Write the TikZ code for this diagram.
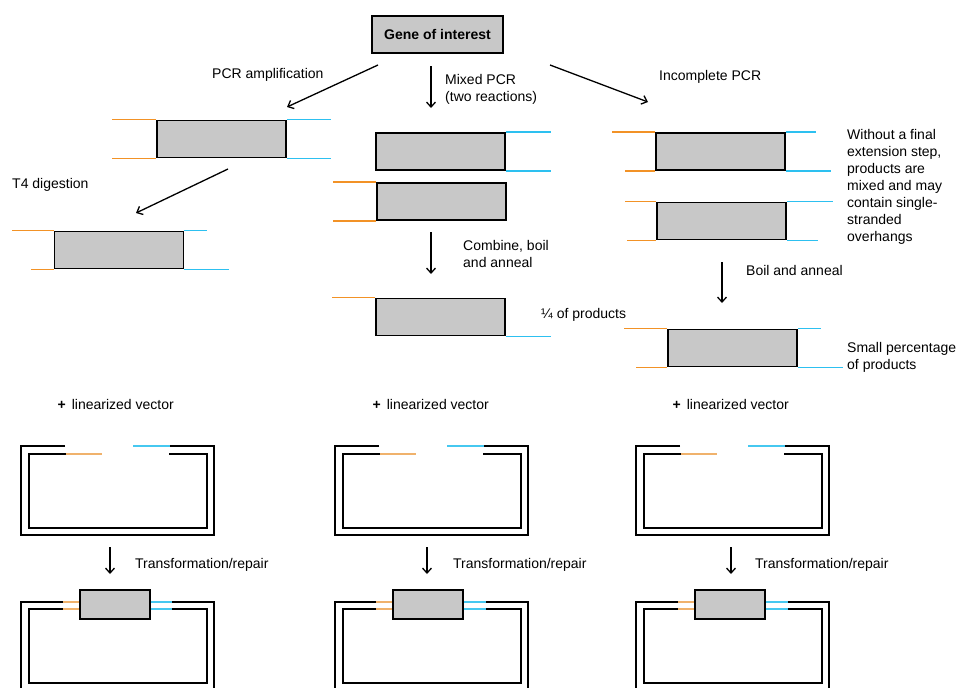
\documentclass[tikz,border=0pt]{standalone}
\usepackage{fontspec}
\setmainfont{Liberation Sans}
\usetikzlibrary{arrows.meta}
\definecolor{boxgray}{RGB}{200,200,200}
\definecolor{strandorange}{RGB}{242,146,38}
\definecolor{strandblue}{RGB}{45,192,240}
\definecolor{vecorange}{RGB}{240,178,108}
\definecolor{vecblue}{RGB}{70,200,240}

\begin{document}
\begin{tikzpicture}
[
x=1pt, y=-1pt,
font=\fontsize{14}{17}\selectfont,
dna box/.style={rectangle,draw,fill=boxgray,line width=1.8pt,minimum width=129pt,minimum height=37pt,inner sep=0pt},
dna gene/.style={dna box,minimum width=131pt,font=\fontsize{14}{17}\selectfont\bfseries},
dna smallbox/.style={dna box,minimum width=70pt,minimum height=29pt},
dna orange/.style={draw=strandorange,line width=1.5pt},
dna blue/.style={draw=strandblue,line width=1.5pt},
vector orange/.style={draw=vecorange,line width=1.5pt},
vector blue/.style={draw=vecblue,line width=1.5pt},
vector line/.style={draw,line width=2.2pt},
step arrow/.style={-{Straight Barb[length=5pt,width=9pt]},line width=1.3pt},
step text/.style={anchor=base west,inner sep=0pt},
step multitext/.style={anchor=west,inner sep=0pt,align=left}
]

\useasboundingbox (0,0) rectangle (959,688);

% gene of interest
\node[dna gene] (gene) at (437.5,34.5) {Gene of interest};

% arrow ends
\coordinate (amp from) at (378,65);
\coordinate (amp to) at (287,107);
\coordinate (mixed from) at (431,66);
\coordinate (mixed to) at (431,108);
\coordinate (incomplete from) at (550,65);
\coordinate (incomplete to) at (648,102);
\coordinate (t4 from) at (228,169);
\coordinate (t4 to) at (136,213);
\coordinate (combine from) at (431,232);
\coordinate (combine to) at (431,274);
\coordinate (boil from) at (722,262);
\coordinate (boil to) at (722,303);

\draw[step arrow] (amp from) -- (amp to);
\draw[step arrow] (mixed from) -- (mixed to);
\draw[step arrow] (incomplete from) -- (incomplete to);
\draw[step arrow] (t4 from) -- (t4 to);
\draw[step arrow] (combine from) -- (combine to);
\draw[step arrow] (boil from) -- (boil to);

% step labels
\node[step text] (amp label) at (212,78) {PCR amplification};
\node[step multitext] (mixed label) at (445,89) {Mixed PCR\\(two reactions)};
\node[step text] (incomplete label) at (659,80) {Incomplete PCR};
\node[step text] (t4 label) at (12,188) {T4 digestion};
\node[step multitext] (combine label) at (463,254) {Combine, boil\\and anneal};
\node[step text] (quarter label) at (541,318) {¼ of products};
\node[step multitext] (without label) at (847,186.5) {Without a final\\extension step,\\products are\\mixed and may\\contain single-\\stranded\\overhangs};
\node[step text] (boil label) at (746,275) {Boil and anneal};
\node[step multitext] (small label) at (847,357) {Small percentage\\of products};

% PCR amplification
\node[dna box] (amp1) at (221.5,139) {};
\draw[dna orange] (amp1.north west) -- ++(-44,0);
\draw[dna orange] (amp1.south west) -- ++(-44,0);
\draw[dna blue] (amp1.north east) -- ++(44,0);
\draw[dna blue] (amp1.south east) -- ++(44,0);

% T4 digestion
\node[dna box] (t4) at (119,250) {};
\draw[dna orange] (t4.north west) -- ++(-42,0);
\draw[dna orange] (t4.south west) -- ++(-23,0);
\draw[dna blue] (t4.north east) -- ++(23,0);
\draw[dna blue] (t4.south east) -- ++(45,0);

% mixed PCR
\node[dna box] (mixed1) at (440.5,151.5) {};
\draw[dna blue] (mixed1.north east) -- ++(45,0);
\draw[dna blue] (mixed1.south east) -- ++(45,0);
\node[dna box] (mixed2) at (441.5,201.5) {};
\draw[dna orange] (mixed2.north west) -- ++(-43,0);
\draw[dna orange] (mixed2.south west) -- ++(-43,0);
\node[dna box] (mixed3) at (440.5,317) {};
\draw[dna orange] (mixed3.north west) -- ++(-43,0);
\draw[dna blue] (mixed3.south east) -- ++(45,0);

% incomplete PCR
\node[dna box] (inc1) at (720.5,151.5) {};
\draw[dna orange] (inc1.north west) -- ++(-43,0);
\draw[dna orange] (inc1.south west) -- ++(-30,0);
\draw[dna blue] (inc1.north east) -- ++(30,0);
\draw[dna blue] (inc1.south east) -- ++(45,0);
\node[dna box] (inc2) at (721.5,221) {};
\draw[dna orange] (inc2.north west) -- ++(-31,0);
\draw[dna orange] (inc2.south west) -- ++(-29,0);
\draw[dna blue] (inc2.north east) -- ++(46,0);
\draw[dna blue] (inc2.south east) -- ++(31,0);
\node[dna box] (inc3) at (732.5,348) {};
\draw[dna orange] (inc3.north west) -- ++(-43,0);
\draw[dna orange] (inc3.south west) -- ++(-31,0);
\draw[dna blue] (inc3.north east) -- ++(23,0);
\draw[dna blue] (inc3.south east) -- ++(45,0);

% + linearized vector
\node[step text] (plus1) at (57.5,409) {\textbf{+}\hspace{6pt}linearized vector};
\node[step text] (plus2) at (372.5,409) {\textbf{+}\hspace{6pt}linearized vector};
\node[step text] (plus3) at (672.5,409) {\textbf{+}\hspace{6pt}linearized vector};

% left vector
\begin{scope}[xshift=21pt]
\draw[vector line] (44,446) -- (0,446) -- (0,535) -- (193,535) -- (193,446) -- (149,446);
\draw[vector line] (45,454) -- (8,454) -- (8,528) -- (186,528) -- (186,454) -- (148,454);
\draw[vector blue] (112,446) -- (149,446);
\draw[vector orange] (45,454) -- (81,454);
\coordinate (repair1 from) at (89,547);
\coordinate (repair1 to) at (89,574);
\draw[step arrow] (repair1 from) -- (repair1 to);
\node[step text] (repair1 label) at (114,568) {Transformation/repair};
\draw[vector line] (42,602) -- (0,602) -- (0,688);
\draw[vector line] (193,688) -- (193,602) -- (150,602);
\draw[vector line] (42,609) -- (8,609) -- (8,683) -- (186,683) -- (186,609) -- (150,609);
\node[dna smallbox] (insert1) at (94,604.5) {};
\draw[vector orange] ([yshift=2.5pt]insert1.west) -- ++(-16,0);
\draw[vector orange] ([yshift=-4.5pt]insert1.west) -- ++(-16,0);
\draw[vector blue] ([yshift=2.5pt]insert1.east) -- ++(21,0);
\draw[vector blue] ([yshift=-4.5pt]insert1.east) -- ++(21,0);
\end{scope}

% middle vector
\begin{scope}[xshift=335pt]
\draw[vector line] (44,446) -- (0,446) -- (0,535) -- (193,535) -- (193,446) -- (149,446);
\draw[vector line] (45,454) -- (8,454) -- (8,528) -- (186,528) -- (186,454) -- (148,454);
\draw[vector blue] (112,446) -- (149,446);
\draw[vector orange] (45,454) -- (81,454);
\coordinate (repair2 from) at (92,547);
\coordinate (repair2 to) at (92,574);
\draw[step arrow] (repair2 from) -- (repair2 to);
\node[step text] (repair2 label) at (118,568) {Transformation/repair};
\draw[vector line] (42,602) -- (0,602) -- (0,688);
\draw[vector line] (193,688) -- (193,602) -- (150,602);
\draw[vector line] (42,609) -- (8,609) -- (8,683) -- (186,683) -- (186,609) -- (150,609);
\node[dna smallbox] (insert2) at (93,604.5) {};
\draw[vector orange] ([yshift=2.5pt]insert2.west) -- ++(-16,0);
\draw[vector orange] ([yshift=-4.5pt]insert2.west) -- ++(-16,0);
\draw[vector blue] ([yshift=2.5pt]insert2.east) -- ++(22,0);
\draw[vector blue] ([yshift=-4.5pt]insert2.east) -- ++(22,0);
\end{scope}

% right vector
\begin{scope}[xshift=636pt]
\draw[vector line] (44,446) -- (0,446) -- (0,535) -- (193,535) -- (193,446) -- (149,446);
\draw[vector line] (45,454) -- (8,454) -- (8,528) -- (186,528) -- (186,454) -- (148,454);
\draw[vector blue] (112,446) -- (149,446);
\draw[vector orange] (45,454) -- (81,454);
\coordinate (repair3 from) at (95,547);
\coordinate (repair3 to) at (95,574);
\draw[step arrow] (repair3 from) -- (repair3 to);
\node[step text] (repair3 label) at (119,568) {Transformation/repair};
\draw[vector line] (42,602) -- (0,602) -- (0,688);
\draw[vector line] (193,688) -- (193,602) -- (150,602);
\draw[vector line] (42,609) -- (8,609) -- (8,683) -- (186,683) -- (186,609) -- (150,609);
\node[dna smallbox] (insert3) at (94,604.5) {};
\draw[vector orange] ([yshift=2.5pt]insert3.west) -- ++(-16,0);
\draw[vector orange] ([yshift=-4.5pt]insert3.west) -- ++(-16,0);
\draw[vector blue] ([yshift=2.5pt]insert3.east) -- ++(22,0);
\draw[vector blue] ([yshift=-4.5pt]insert3.east) -- ++(22,0);
\end{scope}

\end{tikzpicture}
\end{document}
